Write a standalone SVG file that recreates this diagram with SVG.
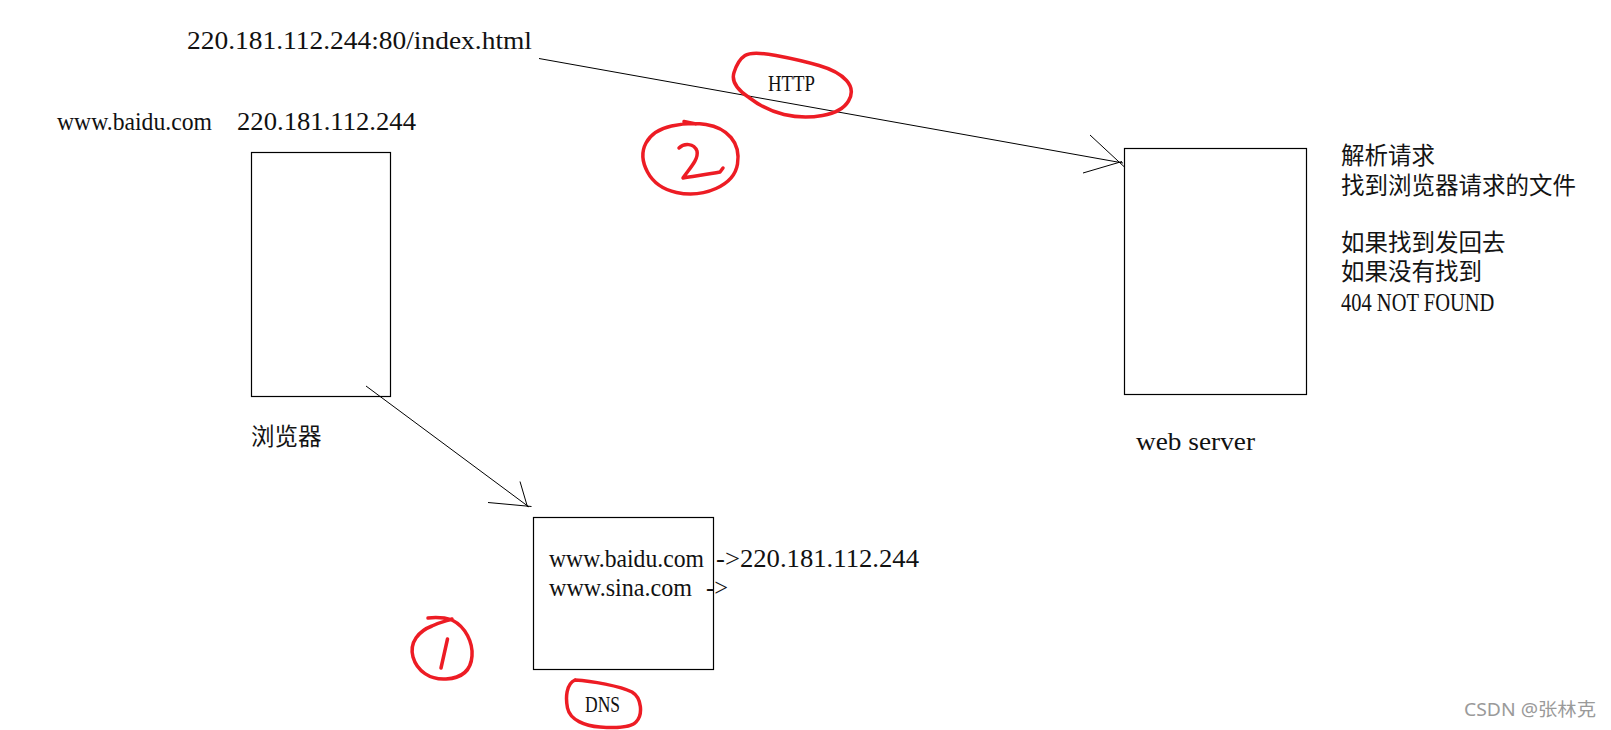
<svg xmlns="http://www.w3.org/2000/svg" width="1611" height="730" viewBox="0 0 1611 730">
<style>
.box{fill:#fff;stroke:#000;stroke-width:1.2}
.t{font-family:"Liberation Serif","Noto Serif",serif;font-size:24.5px;fill:#111}
.lbl{font-family:"Liberation Serif","Noto Serif",serif;font-size:24px;fill:#111}
.cjk{font-family:"Noto Sans CJK SC","Noto Sans",sans-serif;font-size:23.5px;fill:#141414}
.ln{stroke:#000;stroke-width:1;fill:none}
.red{stroke:#ED1C24;stroke-width:3.5;fill:none;stroke-linecap:round;stroke-linejoin:round}
.wm{font-family:"Noto Sans","Noto Sans CJK SC",sans-serif;font-size:18px;fill:#9a9a9a}
</style>
<rect width="1611" height="730" fill="#fff"/>

<g id="url-label">
<text class="t" x="187" y="49" textLength="345" lengthAdjust="spacingAndGlyphs">220.181.112.244:80/index.html</text>
</g>

<g id="browser">
<text class="t" x="57" y="130" textLength="155" lengthAdjust="spacingAndGlyphs">www.baidu.com</text>
<text class="t" x="237" y="130" textLength="179" lengthAdjust="spacingAndGlyphs">220.181.112.244</text>
<rect class="box" x="251.5" y="152.5" width="139" height="244"/>
<text class="cjk" x="251" y="445">浏览器</text>
</g>

<g id="webserver">
<rect class="box" x="1124.5" y="148.5" width="182" height="246"/>
<text class="t" x="1136" y="450" textLength="119" lengthAdjust="spacingAndGlyphs">web server</text>
</g>

<g id="server-notes">
<text class="cjk" x="1341" y="164">解析请求</text>
<text class="cjk" x="1341" y="194">找到浏览器请求的文件</text>
<text class="cjk" x="1341" y="251">如果找到发回去</text>
<text class="cjk" x="1341" y="280">如果没有找到</text>
<text class="t" transform="translate(1341,311) scale(0.837,1)">404 NOT FOUND</text>
</g>

<g id="dns">
<rect class="box" x="533.5" y="517.5" width="180" height="152"/>
<text class="t" x="549" y="567" textLength="155" lengthAdjust="spacingAndGlyphs">www.baidu.com</text>
<text class="t" x="716" y="567" textLength="203" lengthAdjust="spacingAndGlyphs">-&gt;220.181.112.244</text>
<text class="t" x="549" y="596" textLength="143" lengthAdjust="spacingAndGlyphs">www.sina.com</text>
<text class="t" x="706" y="596" textLength="22" lengthAdjust="spacingAndGlyphs">-&gt;</text>
<text class="lbl" transform="translate(585,712) scale(0.73,1)">DNS</text>
</g>

<g id="connectors">
<path class="ln" d="M539,58.5 L1123,163"/>
<path class="ln" d="M1090,135 L1125,167.5 M1083,173 L1122,161.5"/>
<text class="lbl" transform="translate(768,91) scale(0.783,1)">HTTP</text>
<path class="ln" d="M366,386 L529,507"/>
<path class="ln" d="M520,481.5 L527.5,507 M488,502.5 L531.5,506.5"/>
</g>

<g id="annotations">
<path class="red" d="M776,55.5 Q800,60 819,65.5 Q838,71 846.5,80.5 Q855,90 848.5,101 Q842,112 822.5,115.5 Q803,119 784,114.5 Q765,110 749,97.5 Q730,85 734,72.5 Q738,60 745,55.5 Q752,51 776,55.5"/>
<path class="red" d="M671.5,126 Q690,122 706,124.5 Q722,127 731,137.5 Q740,148 737.5,164 Q735,180 716,188.5 Q697,197 676.5,192.5 Q656,188 647.5,172 Q639,156 646,143 Q653,130 671.5,126 M684,121.5 L696,124"/>
<path class="red" d="M679,148 C684,143 694,143 697,151 C699,160 688,170 683,178 C695,176 710,174 720,172 L723,168"/>
<path class="red" d="M428,618 C438,617 446,618 452,620 C466,627 473,643 472,656 C471,670 463,678 446,679 C430,680 417,671 413,657 C409,642 419,631 432,626 C440,622 446,621 452,619"/>
<path class="red" d="M447.5,639 L441,668"/>
<path class="red" d="M575,680 C592,681 620,686 632,692 C642,698 643,715 636,722 C631,728 612,728 600,727 C585,726 570,720 567.5,708 C565.5,698 566,684 575,680"/>
</g>

<g id="watermark">
<text class="wm" x="1464" y="716" textLength="132" lengthAdjust="spacingAndGlyphs">CSDN @张林克</text>
</g>
</svg>
